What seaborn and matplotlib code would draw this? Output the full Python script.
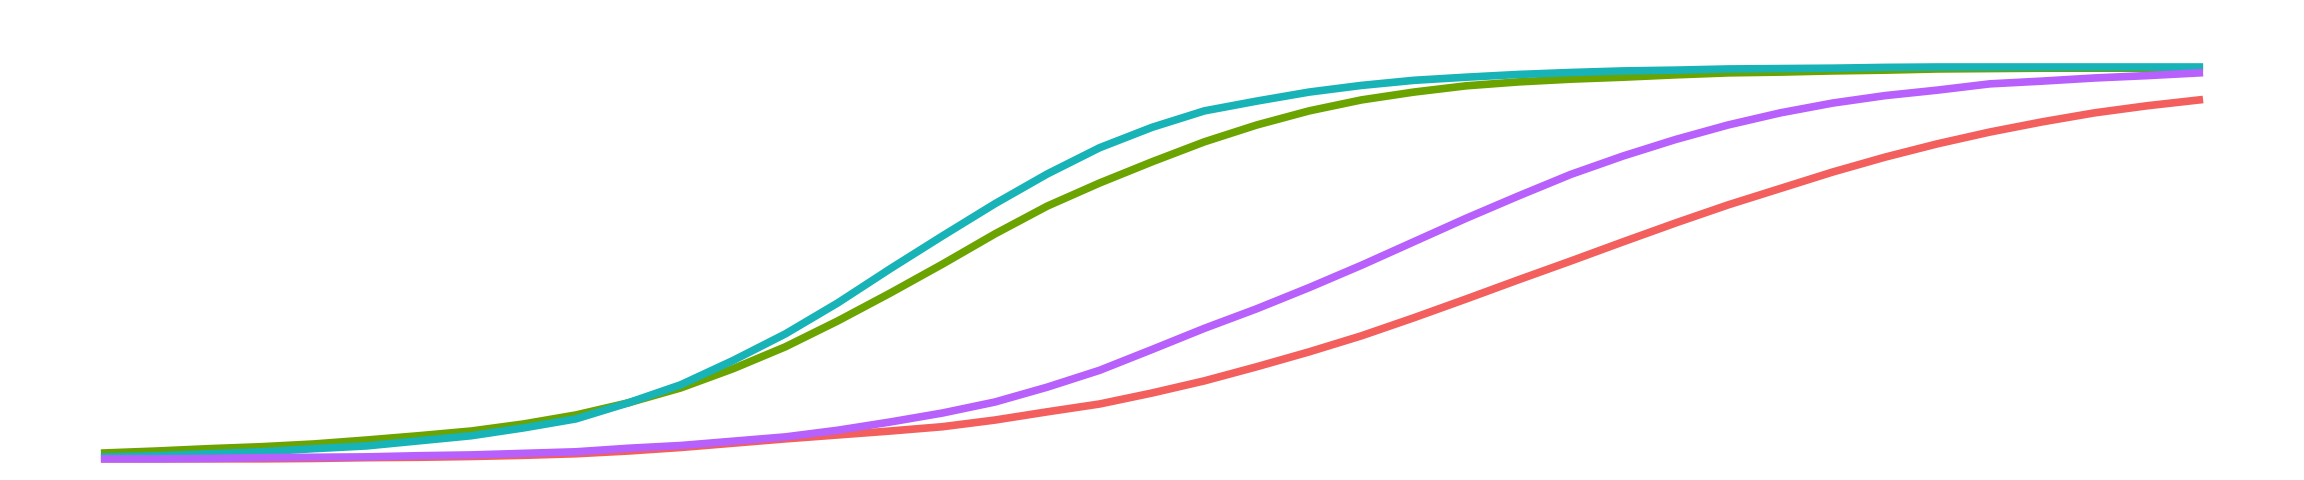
import pandas as pd
import matplotlib.pyplot as plt
import seaborn as sns

# x positions shared by all four curves
x = [0, 2.5, 5, 7.5, 10, 12.5, 15, 17.5, 20, 22.5, 25, 27.5, 30, 32.5, 35, 37.5,
     40, 42.5, 45, 47.5, 50, 52.5, 55, 57.5, 60, 62.5, 65, 67.5, 70, 72.5, 75,
     77.5, 80, 82.5, 85, 87.5, 90, 92.5, 95, 97.5, 100]

red = [0, 0, 0, 0, 0.001, 0.003, 0.004, 0.006, 0.009, 0.013, 0.020, 0.029, 0.040,
       0.051, 0.061, 0.071, 0.082, 0.099, 0.120, 0.140, 0.168, 0.199, 0.235, 0.273,
       0.314, 0.360, 0.408, 0.457, 0.505, 0.554, 0.602, 0.648, 0.690, 0.732, 0.770,
       0.804, 0.834, 0.860, 0.883, 0.901, 0.916]

green = [0.015, 0.020, 0.026, 0.031, 0.038, 0.048, 0.059, 0.071, 0.089, 0.112, 0.143,
         0.181, 0.230, 0.286, 0.352, 0.423, 0.497, 0.574, 0.645, 0.704, 0.758, 0.809,
         0.852, 0.888, 0.916, 0.936, 0.952, 0.962, 0.969, 0.974, 0.980, 0.985, 0.987,
         0.990, 0.992, 0.995, 0.996, 0.997, 0.997, 0.997, 0.997]

teal = [0.005, 0.008, 0.013, 0.018, 0.026, 0.033, 0.046, 0.059, 0.079, 0.102, 0.143,
        0.189, 0.251, 0.319, 0.398, 0.485, 0.569, 0.651, 0.727, 0.794, 0.846, 0.888,
        0.913, 0.936, 0.953, 0.966, 0.974, 0.981, 0.986, 0.990, 0.992, 0.995, 0.996,
        0.997, 0.999, 1.0, 1.0, 1.0, 1.0, 1.0, 1.0]

purple = [0, 0, 0.001, 0.003, 0.004, 0.005, 0.008, 0.010, 0.014, 0.018, 0.027, 0.034,
          0.045, 0.056, 0.073, 0.094, 0.117, 0.145, 0.183, 0.226, 0.279, 0.333, 0.383,
          0.437, 0.494, 0.554, 0.614, 0.671, 0.726, 0.773, 0.815, 0.852, 0.883, 0.908,
          0.927, 0.941, 0.957, 0.964, 0.972, 0.978, 0.985]

groups = ["a", "b", "c", "d"]
colors = ["#F25F5C", "#6BA300", "#17B3B7", "#B760FB"]

frames = []
for g, vals in zip(groups, [red, green, teal, purple]):
    frames.append(pd.DataFrame({"x": x, "y": vals, "group": g}))
df = pd.concat(frames, ignore_index=True)

fig = plt.figure(figsize=(23.04, 4.8), dpi=100)
ax = fig.add_axes([0, 0, 1, 1])
sns.lineplot(data=df, x="x", y="y", hue="group", palette=colors,
             linewidth=5.5, legend=False, sort=False, ax=ax)
ax.set_xlim(-5, 105)
ax.set_ylim(-0.054, 1.171)
ax.axis("off")
fig.savefig("out.png", dpi=100, facecolor="white")
